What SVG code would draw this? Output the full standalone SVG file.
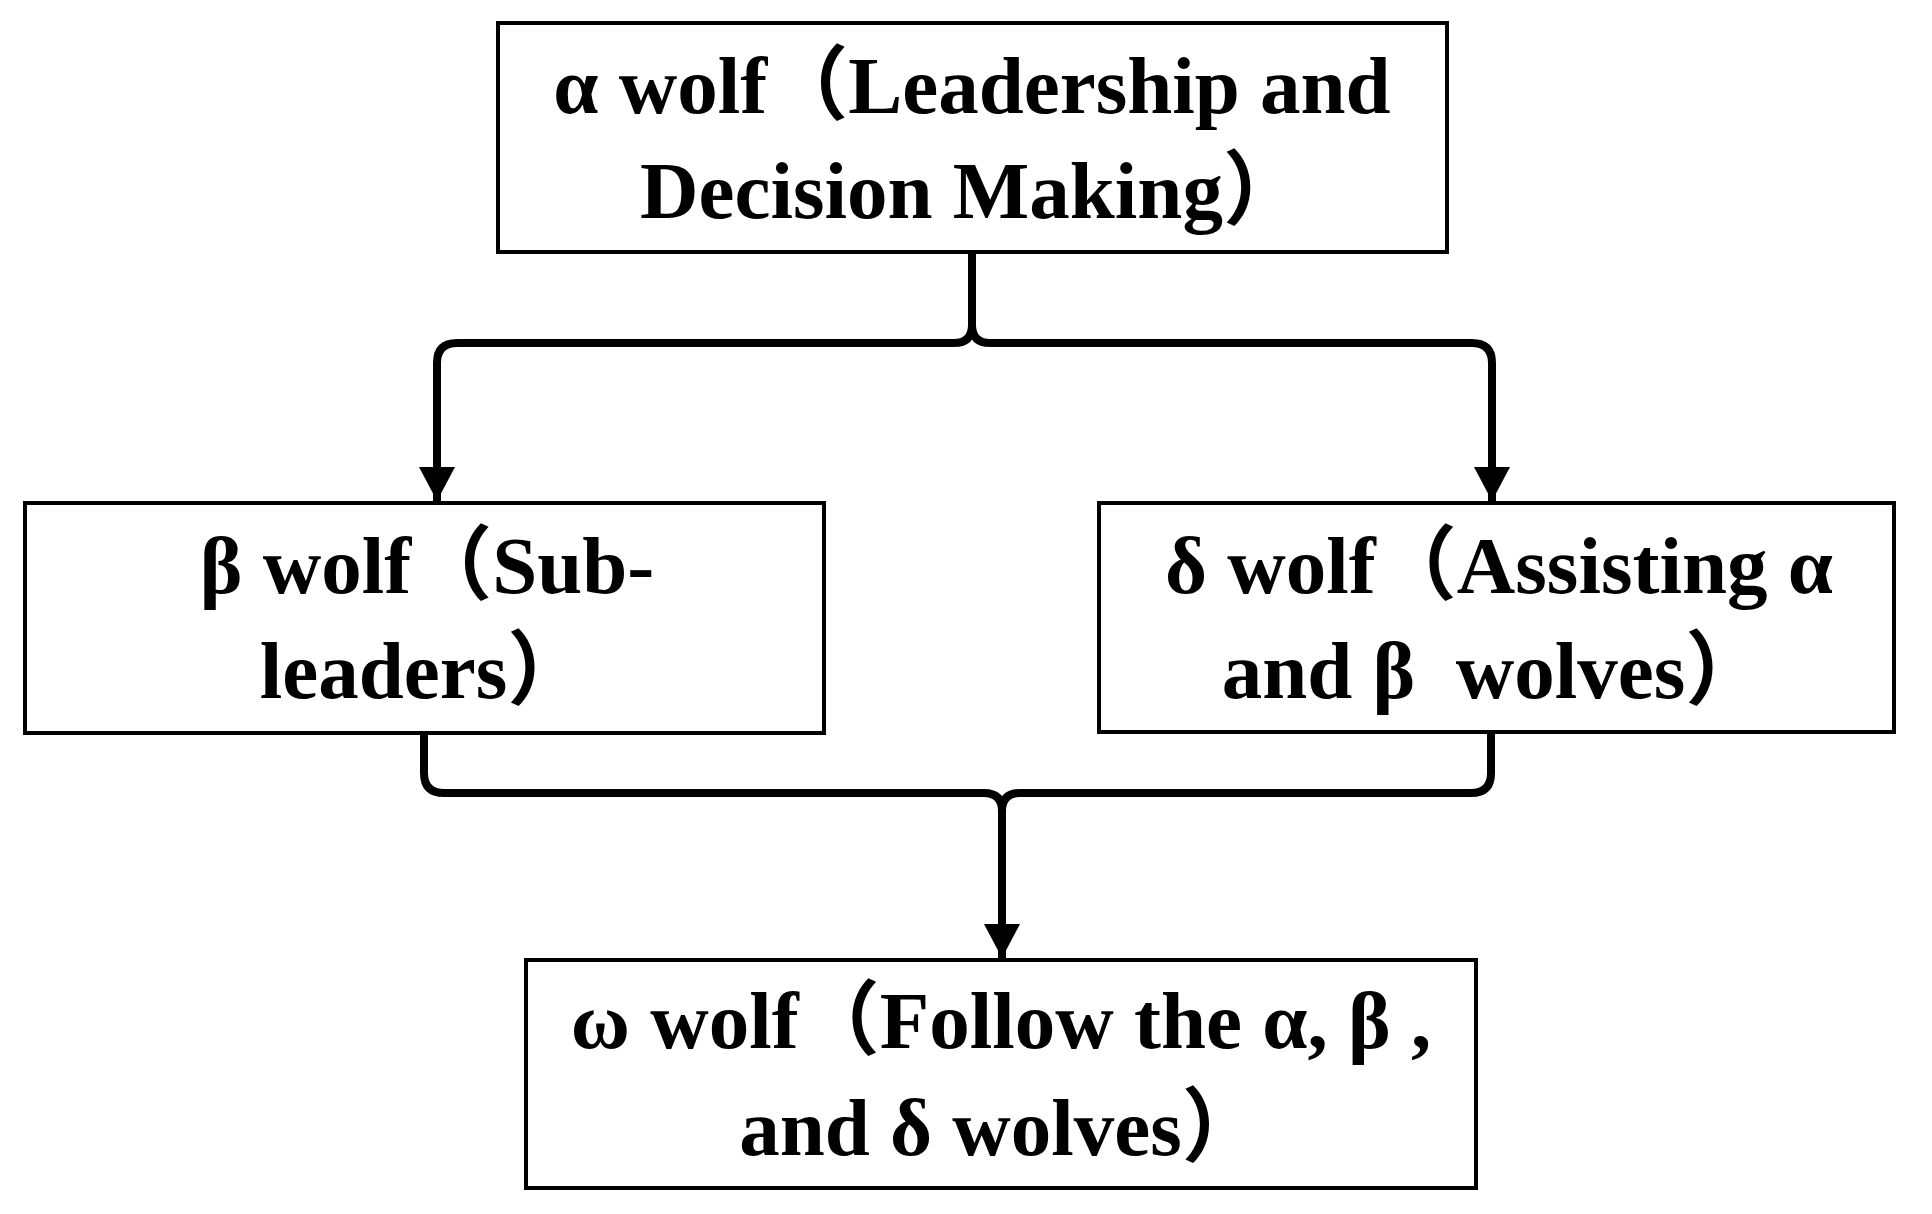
<svg xmlns="http://www.w3.org/2000/svg" width="1932" height="1214" viewBox="0 0 1932 1214">
<style>
.box{fill:#fff;stroke:#000;stroke-width:4}
.t{font-family:"Liberation Serif","Noto Sans CJK SC",serif;font-weight:bold;font-size:81px;fill:#000;text-anchor:middle}
.c{fill:none;stroke:#000;stroke-width:8;stroke-linejoin:round;stroke-linecap:butt}
</style>
<defs>
<marker id="ah" markerUnits="userSpaceOnUse" markerWidth="36" markerHeight="36" refX="34" refY="18" orient="auto">
<path d="M0,0 L34,18 L0,36 Z" fill="#000"/>
</marker>
</defs>
<g id="connectors">
<path class="c" d="M972,252 V325 Q972,343 954,343 H457 Q437,343 437,363 V501" marker-end="url(#ah)"/>
<path class="c" d="M972,325 Q972,343 990,343 H1472 Q1492,343 1492,363 V501" marker-end="url(#ah)"/>
<path class="c" d="M424,733 V773 Q424,793 444,793 H984 Q1002,793 1002,811"/>
<path class="c" d="M1491,732 V773 Q1491,793 1471,793 H1020 Q1002,793 1002,811 V958" marker-end="url(#ah)"/>
</g>
<g id="alpha">
<rect class="box" x="498" y="23" width="949" height="229"/>
<text class="t" x="972" y="113">α wolf（Leadership and</text>
<text class="t" x="972" y="218">Decision Making）</text>
</g>
<g id="beta">
<rect class="box" x="25" y="503" width="799" height="230"/>
<text class="t" x="427" y="593">β wolf（Sub-</text>
<text class="t" x="424" y="698">leaders）</text>
</g>
<g id="delta">
<rect class="box" x="1099" y="503" width="795" height="229"/>
<text class="t" x="1499" y="593">δ wolf（Assisting α</text>
<text class="t" x="1494" y="698">and β&#160; wolves）</text>
</g>
<g id="omega">
<rect class="box" x="526" y="960" width="950" height="228"/>
<text class="t" x="1001" y="1048">ω wolf（Follow the α, β ,</text>
<text class="t" x="1001" y="1155">and δ wolves）</text>
</g>
</svg>
